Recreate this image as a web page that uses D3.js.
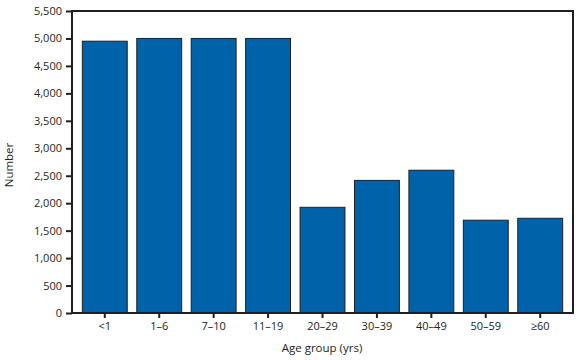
<!DOCTYPE html>
<html><head><meta charset="utf-8">
<script src="https://cdn.jsdelivr.net/npm/d3@7"></script>
<style>body{margin:0;background:#fff}svg{display:block}text{font-family:"Open Sans","Noto Sans",sans-serif;fill:#231f20}</style>
</head><body>
<svg id="c" width="584" height="360"></svg>
<script>
const categories = ["<1","1–6","7–10","11–19","20–29","30–39","40–49","50–59","≥60"];
const values = [4950,5000,5000,5000,1925,2415,2600,1690,1725];
const yTicks = [0,500,1000,1500,2000,2500,3000,3500,4000,4500,5000,5500];

const svg = d3.select("#c");
const L=72,R=573,T=11,B=313;
const x = d3.scaleBand().domain(categories).range([L,R]).paddingInner(0.175).paddingOuter(0.19);
const y = d3.scaleLinear().domain([0,5500]).range([B,T]);

svg.append("g").selectAll("rect").data(values).join("rect")
  .attr("x",(d,i)=>x(categories[i])).attr("width",x.bandwidth())
  .attr("y",d=>y(d)).attr("height",d=>B-y(d))
  .attr("fill","#0062a8").attr("stroke","#231f20").attr("stroke-width",1);

// frame
svg.append("rect").attr("x",L).attr("y",T).attr("width",R-L).attr("height",B-T)
  .attr("fill","none").attr("stroke","#231f20").attr("stroke-width",2);

const ya = svg.append("g").attr("transform",`translate(${L},0)`)
  .call(d3.axisLeft(y).tickValues(yTicks).tickFormat(d3.format(",")).tickSize(6).tickPadding(4));
ya.select(".domain").remove();
ya.selectAll("line").attr("stroke","#231f20").attr("stroke-width",2);
ya.selectAll("text").style("font-size","11px").attr("fill","#231f20");

const xa = svg.append("g").attr("transform",`translate(0,${B})`)
  .call(d3.axisBottom(x).tickSize(5).tickPadding(4));
xa.select(".domain").remove();
xa.selectAll("line").attr("stroke","#231f20").attr("stroke-width",2);
xa.selectAll("text").style("font-size","11px").attr("fill","#231f20");

svg.append("text").attr("transform","translate(13,165) rotate(-90)").attr("text-anchor","middle")
  .style("font-size","11.5px").text("Number");
svg.append("text").attr("x",322).attr("y",352).attr("text-anchor","middle")
  .style("font-size","11.5px").text("Age group (yrs)");
</script>
</body></html>
